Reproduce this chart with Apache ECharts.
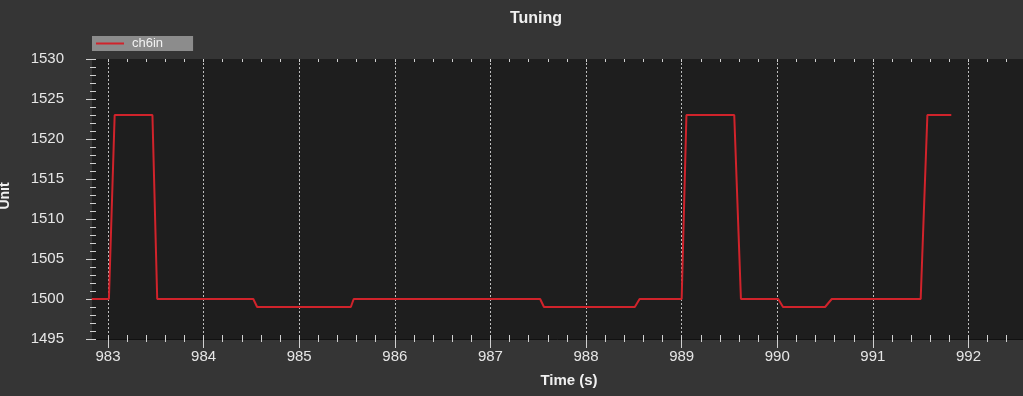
<!DOCTYPE html>
<html>
<head>
<meta charset="utf-8">
<script src="https://cdn.jsdelivr.net/npm/echarts@6/dist/echarts.min.js"></script>
<style>
html,body{margin:0;padding:0;background:#353535;}
#c{width:1023px;height:396px;}
</style>
</head>
<body>
<div id="c"></div>
<script>
var seriesName = 'ch6in';
var timeValues = [982.83, 983.01, 983.07, 983.465, 983.515, 984.52, 984.56, 985.54, 985.57, 987.52, 987.56, 988.51, 988.56, 989.00, 989.05, 989.55, 989.62, 990.01, 990.06, 990.50, 990.57, 991.50, 991.57, 991.82];
var ch6inValues = [1500, 1500, 1523, 1523, 1500, 1500, 1499, 1499, 1500, 1500, 1499, 1499, 1500, 1500, 1523, 1523, 1500, 1500, 1499, 1499, 1500, 1500, 1523, 1523];
var xMajorTicks = [983, 984, 985, 986, 987, 988, 989, 990, 991, 992];
var yTickLabels = [1495, 1500, 1505, 1510, 1515, 1520, 1525, 1530];

var xMin = 982.833, xMax = 992.57;
var xMinorTicks = [];
for (var i = 0; i <= 50; i++) {
  var v = Math.round((982.8 + i * 0.2) * 10) / 10;
  if (v >= xMin && v <= xMax) xMinorTicks.push(v);
}

var tickColor = '#d0d0d0';
var labelColor = '#e6e6e6';
var fontFam = 'Liberation Sans, Arial, sans-serif';
var lineData = timeValues.map(function (t, i) { return [t, ch6inValues[i]]; });

function xAx(extra) {
  var base = {
    type: 'value', min: xMin, max: xMax, position: 'bottom',
    axisLine: { show: false },
    axisLabel: { show: false },
    axisTick: { show: false },
    splitLine: { show: false }
  };
  for (var k in extra) base[k] = extra[k];
  return base;
}
function yAx(extra) {
  var base = {
    type: 'value', min: 1495, max: 1530, interval: 1, position: 'left',
    axisLine: { show: false },
    axisLabel: { show: false },
    axisTick: { show: false },
    splitLine: { show: false }
  };
  for (var k in extra) base[k] = extra[k];
  return base;
}

var chart = echarts.init(document.getElementById('c'), null, { renderer: 'canvas' });
chart.setOption({
  backgroundColor: '#353535',
  animation: false,
  title: {
    text: 'Tuning', left: 531, top: 6, textAlign: 'center',
    textStyle: { color: '#f0f0f0', fontSize: 16, fontWeight: 'bold', fontFamily: fontFam }
  },
  legend: {
    left: 92, top: 36,
    backgroundColor: '#8c8c8c',
    padding: [1, 30, 1, 4],
    itemWidth: 28, itemHeight: 2,
    icon: 'rect',
    textStyle: { color: '#f2f2f2', fontSize: 13, fontFamily: fontFam, padding: [0, 0, 0, 3] },
    data: [seriesName]
  },
  grid: {
    left: 92, right: 0, top: 59, bottom: 57,
    show: true, backgroundColor: '#1e1e1e', borderWidth: 0
  },
  xAxis: [
    xAx({
      axisLine: { show: true, lineStyle: { color: '#111111', width: 1 } },
      axisTick: { show: true, customValues: xMajorTicks, length: 9, lineStyle: { color: tickColor } },
      axisLabel: { show: true, customValues: xMajorTicks, margin: 10, color: labelColor, fontSize: 15, fontFamily: fontFam },
      splitLine: { show: true, lineStyle: { color: '#bdbdbd', type: [2, 2], width: 1 } }
    }),
    xAx({ axisTick: { show: true, customValues: xMinorTicks, inside: true, length: 4, lineStyle: { color: tickColor } } }),
    xAx({ axisTick: { show: true, customValues: xMinorTicks, length: 3, lineStyle: { color: tickColor } } }),
    xAx({ position: 'top', axisTick: { show: true, customValues: xMinorTicks, inside: true, length: 3, lineStyle: { color: tickColor } } })
  ],
  yAxis: [
    yAx({
      interval: 5,
      axisTick: { show: true, length: 6, lineStyle: { color: tickColor } },
      axisLabel: { show: true, customValues: yTickLabels, margin: 28, color: labelColor, fontSize: 15, fontFamily: fontFam,
        formatter: function (val) { return String(val); } }
    }),
    yAx({ axisTick: { show: true, inside: true, length: 4, lineStyle: { color: tickColor } } }),
    yAx({ axisTick: { show: true, length: 2, lineStyle: { color: tickColor } } })
  ],
  graphic: [
    { type: 'text', x: 569, y: 381, style: { text: 'Time (s)', fill: '#f0f0f0', font: 'bold 15px ' + fontFam, align: 'center', verticalAlign: 'middle' } },
    { type: 'text', x: 5, y: 196, rotation: Math.PI / 2, style: { text: 'Unit', fill: '#f0f0f0', font: 'bold 14px ' + fontFam, align: 'center', verticalAlign: 'middle' } }
  ],
  series: [{
    name: seriesName, type: 'line', xAxisIndex: 0, yAxisIndex: 0,
    data: lineData, showSymbol: false, symbol: 'none',
    lineStyle: { color: '#d0232b', width: 2 },
    itemStyle: { color: '#d0232b' }
  }]
});
</script>
</body>
</html>
